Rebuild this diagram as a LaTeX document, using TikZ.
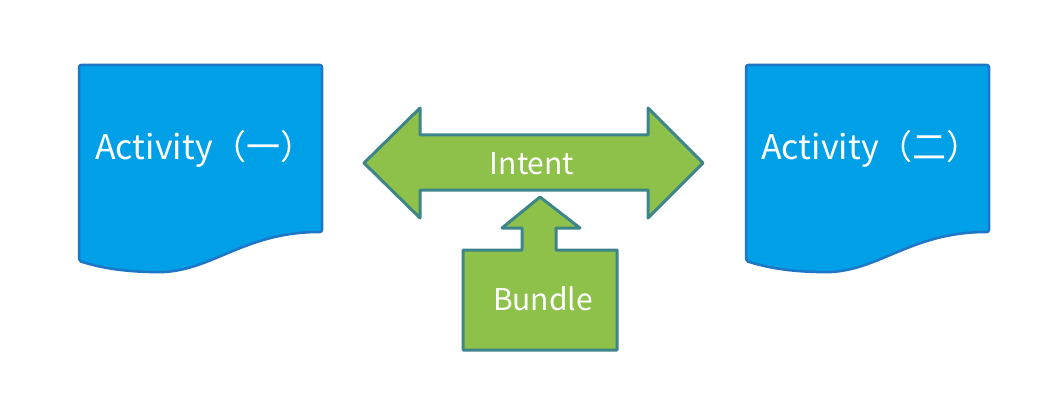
\documentclass[tikz,border=0pt]{standalone}
\usepackage{fontspec}
\newfontfamily\cjk{Noto Sans CJK SC}
\definecolor{docblue}{HTML}{00A0E8}
\definecolor{docedge}{HTML}{1F76C6}
\definecolor{grfill}{HTML}{8DC14A}
\definecolor{gredge}{HTML}{3E8589}
\tikzset{
  docshape/.style={fill=docblue, draw=docedge, line width=2.5pt, line join=round, rounded corners=2pt},
  greenshape/.style={fill=grfill, draw=gredge, line width=3pt, line join=round},
  bigtext/.style={text=white, font=\cjk\fontsize{34}{37}\selectfont, inner sep=0pt, anchor=base},
  midtext/.style={text=white, font=\cjk\fontsize{30}{33}\selectfont, inner sep=0pt, anchor=base}
}
\begin{document}
\begin{tikzpicture}[x=1pt,y=-1pt]
\useasboundingbox (0,0) rectangle (1055,401);
% left document
\path[docshape] (79,65) -- (322,65) -- (322,232)
  .. controls (240,232) and (210,275) .. (150,272)
  .. controls (115,271) and (95,266) .. (79,261) -- cycle;
% right document
\path[docshape] (746,65) -- (989,65) -- (989,232)
  .. controls (907,232) and (877,275) .. (817,272)
  .. controls (782,271) and (762,266) .. (746,261) -- cycle;
% double arrow Intent
\path[greenshape] (364,163) -- (420,108) -- (420,135) -- (648,135) -- (648,108)
  -- (703,163) -- (648,218) -- (648,190) -- (420,190) -- (420,218) -- cycle;
% Bundle up-arrow callout
\path[greenshape] (463,250) -- (522,250) -- (522,228) -- (502,228) -- (540,197)
  -- (580,228) -- (556,228) -- (556,250) -- (617,250) -- (617,350) -- (463,350) -- cycle;
% texts
\node[bigtext] (act1) at (205,160) {Activity（一）};
\node[bigtext] (act2) at (871,160) {Activity（二）};
\node[midtext] (intent) at (532,175) {Intent};
\node[midtext] (bundle) at (543,310) {Bundle};
\end{tikzpicture}
\end{document}
